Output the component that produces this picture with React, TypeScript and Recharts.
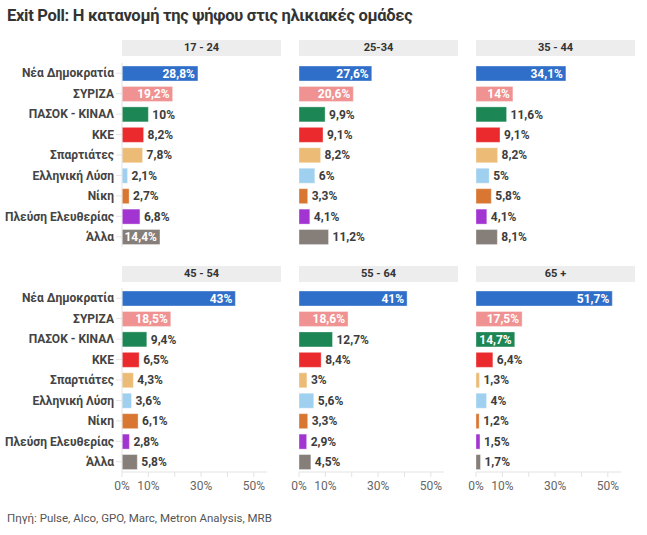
import React from 'react';
import { BarChart, Bar, XAxis, YAxis, Cell, LabelList } from 'recharts';

// Exit poll vote share by age group (%)
const parties = [
  'Νέα Δημοκρατία',
  'ΣΥΡΙΖΑ',
  'ΠΑΣΟΚ - ΚΙΝΑΛ',
  'ΚΚΕ',
  'Σπαρτιάτες',
  'Ελληνική Λύση',
  'Νίκη',
  'Πλεύση Ελευθερίας',
  'Άλλα',
];
const ageGroups = ['17 - 24', '25-34', '35 - 44', '45 - 54', '55 - 64', '65 +'];
const v1724 = [28.8, 19.2, 10, 8.2, 7.8, 2.1, 2.7, 6.8, 14.4];
const v2534 = [27.6, 20.6, 9.9, 9.1, 8.2, 6, 3.3, 4.1, 11.2];
const v3544 = [34.1, 14, 11.6, 9.1, 8.2, 5, 5.8, 4.1, 8.1];
const v4554 = [43, 18.5, 9.4, 6.5, 4.3, 3.6, 6.1, 2.8, 5.8];
const v5564 = [41, 18.6, 12.7, 8.4, 3, 5.6, 3.3, 2.9, 4.5];
const v65 = [51.7, 17.5, 14.7, 6.4, 1.3, 4, 1.2, 1.5, 1.7];
const groupValues = [v1724, v2534, v3544, v4554, v5564, v65];
const xTicks = [0, 10, 20, 30, 40, 50];
const shownTicks = [0, 10, 30, 50];

const partyColors = ['#306fc9', '#f09292', '#1d8655', '#ea2a2c', '#ecbc77', '#9fd0ef', '#d97631', '#a235d1', '#857e79'];

const FONT = 'Roboto, "Noto Sans", sans-serif';
const PLOT_W = 145;
const PLOT_H = 184;
const COL_X = [122, 299, 476];
const ROW_Y = [63, 288];
const HEADER_Y = [40, 266];
const Y_AXIS_W = 122;
const PAD = 14;

const fmt = (v: number) => `${String(v).replace('.', ',')}%`;

const ValueLabel = (props: any) => {
  const { x, y, width, height, value } = props;
  const inside = value >= 14;
  const cy = y + height / 2;
  if (inside) {
    return (
      <text x={x + width - 3} y={cy} dy="0.35em" textAnchor="end" fill="#fff" fontSize={12} fontWeight={700} fontFamily={FONT}>
        {fmt(value)}
      </text>
    );
  }
  return (
    <text
      x={x + width + 4}
      y={cy}
      dy="0.35em"
      textAnchor="start"
      fill="#3d3d3d"
      fontSize={12}
      fontWeight={700}
      fontFamily={FONT}
      stroke="#fff"
      strokeWidth={3}
      paintOrder="stroke"
    >
      {fmt(value)}
    </text>
  );
};

const PartyTick = (props: any) => {
  const { x, y, payload } = props;
  return (
    <text x={x} y={y} dy="0.35em" textAnchor="end" fill="#444" fontSize={12} fontWeight={700} fontFamily={FONT}>
      {payload.value}
    </text>
  );
};

const Panel = ({ idx }: { idx: number }) => {
  const col = idx % 3;
  const row = Math.floor(idx / 3);
  const showY = col === 0;
  const showX = row === 1;
  const data = parties.map((p, i) => ({ party: p, value: groupValues[idx][i] }));
  const yW = showY ? Y_AXIS_W : 0;
  const xH = showX ? 30 : 0;
  return (
    <>
      <div
        style={{
          position: 'absolute',
          left: COL_X[col],
          top: HEADER_Y[row],
          width: 159,
          height: 16,
          background: '#ededed',
          fontFamily: FONT,
          fontSize: 11,
          fontWeight: 700,
          color: '#333',
          lineHeight: '16px',
          textAlign: 'center',
        }}
      >
        {ageGroups[idx]}
      </div>
      <div style={{ position: 'absolute', left: COL_X[col] - yW - PAD, top: ROW_Y[row] }}>
        <BarChart
          width={PAD + yW + PLOT_W + 40}
          height={PLOT_H + xH}
          data={data}
          layout="vertical"
          margin={{ top: 0, right: 40, bottom: 0, left: PAD }}
        >
          <XAxis
            type="number"
            domain={[0, 55]}
            ticks={xTicks}
            hide={!showX}
            height={30}
            stroke="#e3e3e3"
            tickSize={5}
            tickMargin={4}
            tick={{ fill: '#666', fontSize: 12, fontFamily: FONT }}
            tickFormatter={(v: number) => (shownTicks.includes(v) ? `${v}%` : '')}
            interval={0}
          />
          <YAxis
            type="category"
            dataKey="party"
            hide={!showY}
            width={Y_AXIS_W}
            stroke="#e3e3e3"
            tickSize={6}
            tickMargin={2}
            tick={<PartyTick />}
            interval={0}
          />
          <Bar dataKey="value" barSize={15} isAnimationActive={false} stroke="#fff" strokeOpacity={0.35} strokeWidth={1}>
            {data.map((d, i) => (
              <Cell key={d.party} fill={partyColors[i]} />
            ))}
            <LabelList dataKey="value" content={ValueLabel} />
          </Bar>
        </BarChart>
      </div>
    </>
  );
};

export default function App() {
  return (
    <div style={{ position: 'absolute', left: 0, top: 0, width: 647, height: 535, background: '#fff', overflow: 'hidden' }}>
      <div
        style={{
          position: 'absolute',
          left: 7,
          top: 6,
          fontFamily: FONT,
          fontSize: 16.5,
          fontWeight: 700,
          letterSpacing: -0.3,
          color: '#333',
          whiteSpace: 'nowrap',
        }}
      >
        Exit Poll: Η κατανομή της ψήφου στις ηλικιακές ομάδες
      </div>
      {ageGroups.map((g, i) => (
        <Panel key={g} idx={i} />
      ))}
      <div
        style={{
          position: 'absolute',
          left: 7,
          top: 511,
          fontFamily: FONT,
          fontSize: 11.5,
          color: '#555',
          whiteSpace: 'nowrap',
        }}
      >
        Πηγή: Pulse, Alco, GPO, Marc, Metron Analysis, MRB
      </div>
    </div>
  );
}
